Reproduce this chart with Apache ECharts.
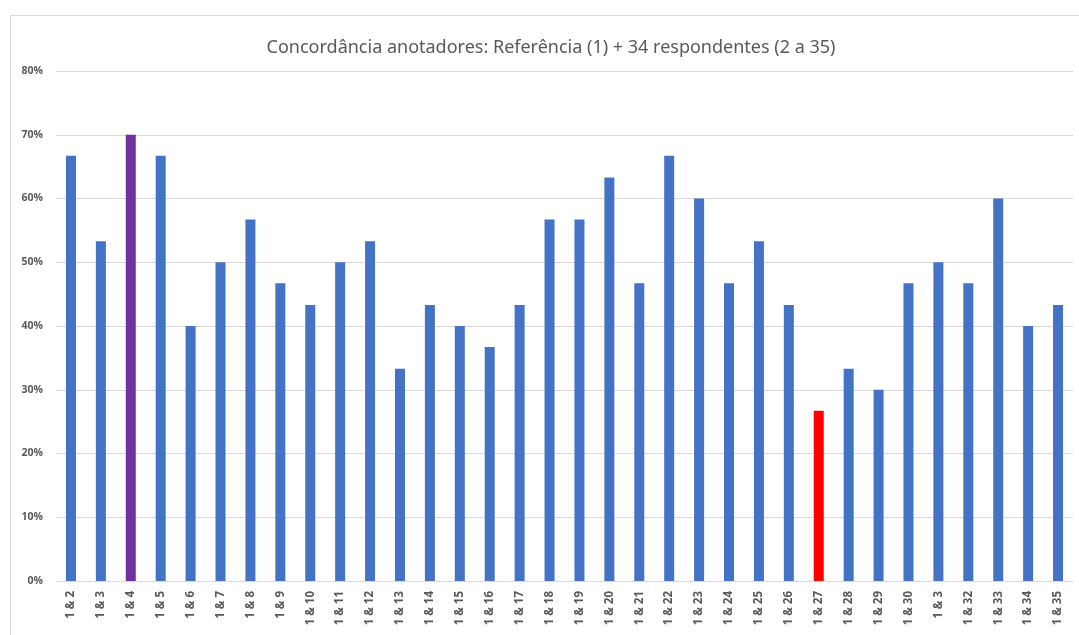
<!DOCTYPE html>
<html>
<head>
<meta charset="utf-8">
<script src="https://cdn.jsdelivr.net/npm/echarts@6/dist/echarts.min.js"></script>
<style>
  html, body { margin: 0; padding: 0; background: #fff; }
  #chart { width: 1079px; height: 635px; }
</style>
</head>
<body>
<div id="chart"></div>
<script>
// pares anotador 1 & n
const categories = [
  '1 & 2', '1 & 3', '1 & 4', '1 & 5', '1 & 6', '1 & 7', '1 & 8', '1 & 9', '1 & 10',
  '1 & 11', '1 & 12', '1 & 13', '1 & 14', '1 & 15', '1 & 16', '1 & 17', '1 & 18',
  '1 & 19', '1 & 20', '1 & 21', '1 & 22', '1 & 23', '1 & 24', '1 & 25', '1 & 26',
  '1 & 27', '1 & 28', '1 & 29', '1 & 30', '1 & 3', '1 & 32', '1 & 33', '1 & 34', '1 & 35'
]
// concordância em %
const agreement = [
  66.7, 53.3, 70.0, 66.7, 40.0, 50.0, 56.7, 46.7, 43.3,
  50.0, 53.3, 33.3, 43.3, 40.0, 36.7, 43.3, 56.7,
  56.7, 63.3, 46.7, 66.7, 60.0, 46.7, 53.3, 43.3,
  26.7, 33.3, 30.0, 46.7, 50.0, 46.7, 60.0, 40.0, 43.3
]
const highlightMax = '1 & 4'
const highlightMin = '1 & 27'
const yTicks = [0, 10, 20, 30, 40, 50, 60, 70, 80]

const chart = echarts.init(document.getElementById('chart'))

const barColor = (name) => {
  if (name === highlightMax) return '#7030A0'
  if (name === highlightMin) return '#FF0000'
  return '#4472C4'
}

chart.setOption({
  animation: false,
  title: {
    text: 'Concordância anotadores: Referência (1) + 34 respondentes (2 a 35)',
    left: 546,
    top: 34,
    textAlign: 'center',
    textStyle: {
      color: '#595959',
      fontFamily: 'Noto Sans',
      fontSize: 18,
      fontWeight: 'normal',
    },
  },
  graphic: [
    {
      type: 'polyline',
      shape: { points: [[10.5, 635], [10.5, 15.5], [1079, 15.5]] },
      style: { stroke: '#d9d9d9', lineWidth: 1, fill: null },
      silent: true,
    },
  ],
  grid: {
    left: 56,
    right: 6,
    top: 71,
    bottom: 54,
  },
  xAxis: {
    type: 'category',
    data: categories,
    axisLine: { lineStyle: { color: '#d9d9d9', width: 1 } },
    axisTick: { show: false },
    axisLabel: {
      rotate: 90,
      interval: 0,
      margin: 10,
      color: '#595959',
      fontFamily: 'Open Sans',
      fontWeight: 'bold',
      fontSize: 11.5,
    },
  },
  yAxis: {
    type: 'value',
    min: yTicks[0],
    max: yTicks[yTicks.length - 1],
    interval: 10,
    axisLine: { show: false },
    axisTick: { show: false },
    axisLabel: {
      margin: 13,
      color: '#595959',
      fontFamily: 'Open Sans',
      fontWeight: 'bold',
      fontSize: 10.5,
      formatter: (v) => v + '%',
    },
    splitLine: { lineStyle: { color: '#d9d9d9', width: 1 } },
  },
  series: [
    {
      type: 'bar',
      barWidth: 10,
      data: categories.map((name, i) => ({
        value: agreement[i],
        itemStyle: { color: barColor(name) },
      })),
    },
  ],
})
</script>
</body>
</html>
